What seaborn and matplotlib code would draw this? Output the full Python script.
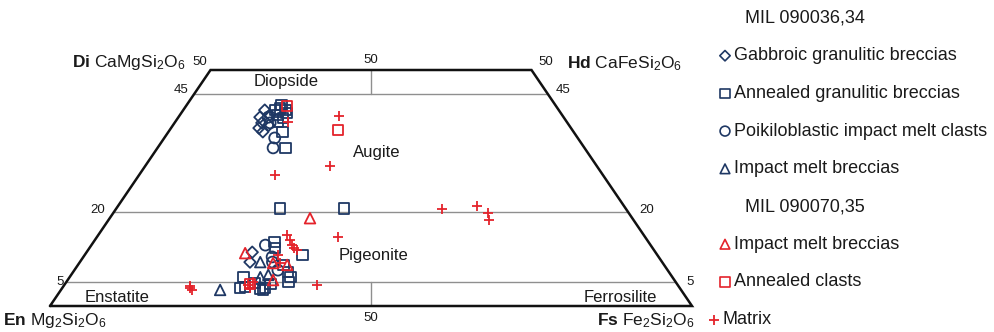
"""
Pyroxene quadrilateral (En-Fs-Di-Hd) for MIL 090036,34 and MIL 090070,35.
Output: out.png
"""

import numpy as np
import pandas as pd
import matplotlib
matplotlib.use('Agg')
import matplotlib.pyplot as plt
import seaborn as sns

NAVY = '#1f3864'
RED = '#e4232b'
TEXT = '#1a1a1a'

# --- Data: Wo and Fs (mol %) ---
# MIL 090036,34
gabbro_wo = [41.5, 40.0, 38.8, 37.7, 36.9, 38.3, 40.5, 11.4, 9.3]
gabbro_fs = [12.7, 12.7, 13.6, 13.7, 14.7, 14.9, 14.0, 25.8, 26.5]

annealed_gran_wo = [41.9, 41.5, 40.5, 39.8, 39.0, 40.9, 42.6, 41.5, 36.9, 33.5,
                    20.6, 20.6, 13.6, 12.3, 10.8, 3.8, 4.0, 3.6, 3.8, 5.1,
                    6.1, 7.2, 6.1, 8.7, 4.7, 4.9, 3.4]
annealed_gran_fs = [14.9, 15.9, 15.2, 16.4, 16.0, 16.4, 14.8, 14.4, 17.8, 19.9,
                    25.5, 35.5, 28.2, 28.9, 33.9, 27.7, 28.4, 30.9, 31.6, 34.6,
                    34.4, 33.5, 27.1, 32.0, 32.0, 29.5, 31.5]

poikilo_wo = [38.8, 35.6, 33.5, 40.0, 12.9, 9.3, 10.4, 7.6]
poikilo_fs = [14.9, 17.2, 18.0, 14.0, 27.1, 30.0, 29.4, 31.7]

melt36_wo = [9.3, 6.1, 3.4, 6.6]
melt36_fs = [28.1, 29.7, 24.8, 30.7]

# MIL 090070,35
melt70_wo = [18.6, 11.2, 8.7, 9.1, 5.5]
melt70_fs = [31.2, 24.8, 32.6, 30.2, 32.0]

annealed_clast_wo = [42.4, 37.3, 4.7]
annealed_clast_fs = [15.7, 26.2, 28.8]

matrix_wo = [39.0, 40.3, 29.7, 27.8, 20.6, 21.2, 19.7, 18.2, 14.6, 4.4, 15.0,
             12.9, 12.3, 11.9, 10.8, 9.1, 4.2, 3.4, 3.8, 4.4, 3.8, 5.1, 14.0]
matrix_fs = [17.6, 24.9, 28.7, 21.1, 50.8, 55.9, 58.3, 59.3, 37.6, 39.4, 29.4,
             31.3, 31.8, 32.6, 30.1, 31.3, 19.7, 20.4, 19.9, 28.6, 29.3, 29.0, 30.4]

groups = [
    ('Gabbroic granulitic breccias', gabbro_wo, gabbro_fs, 'D', NAVY, 34),
    ('Annealed granulitic breccias', annealed_gran_wo, annealed_gran_fs, 's', NAVY, 58),
    ('Poikiloblastic impact melt clasts', poikilo_wo, poikilo_fs, 'o', NAVY, 62),
    ('Impact melt breccias', melt36_wo, melt36_fs, '^', NAVY, 58),
    ('Impact melt breccias ', melt70_wo, melt70_fs, '^', RED, 58),
    ('Annealed clasts', annealed_clast_wo, annealed_clast_fs, 's', RED, 58),
    ('Matrix', matrix_wo, matrix_fs, '+', RED, 52),
]

rows = []
for name, wo, fs, _, _, _ in groups:
    for w, f in zip(wo, fs):
        rows.append({'group': name, 'Wo': w, 'Fs': f})
df = pd.DataFrame(rows)
# quadrilateral coordinates: horizontal = Fs + Wo/2, vertical = Wo
df['x'] = df['Fs'] + df['Wo'] / 2

sns.set_theme(style='white')
plt.rcParams['font.family'] = ['Liberation Sans', 'DejaVu Sans']
plt.rcParams['text.color'] = TEXT
plt.rcParams['mathtext.fontset'] = 'custom'
plt.rcParams['mathtext.rm'] = 'Liberation Sans'
plt.rcParams['mathtext.bf'] = 'Liberation Sans:bold'
plt.rcParams['mathtext.it'] = 'Liberation Sans:italic'

fig = plt.figure(figsize=(9.95, 3.32), dpi=100)
fig.patch.set_facecolor('white')

# pixel-space overlay for the legend column
lax = fig.add_axes([0, 0, 1, 1])
lax.set_xlim(0, 995)
lax.set_ylim(332, 0)
lax.axis('off')

ax = fig.add_axes([50 / 995, 26 / 332, 642 / 995, 236 / 332])
ax.set_xlim(0, 100)
ax.set_ylim(0, 50)
ax.axis('off')

# --- Quadrilateral frame ---
ax.plot([0, 100, 75, 25, 0], [0, 0, 50, 50, 0], color='#111111', lw=1.8,
        clip_on=False, zorder=2, solid_joinstyle='miter')
for wo in [45, 20, 5]:
    ax.plot([wo / 2, 100 - wo / 2], [wo, wo], color='#8f8f8f', lw=1.0, zorder=1)
ax.plot([50, 50], [45, 50], color='#8f8f8f', lw=1.0, zorder=1)
ax.plot([50, 50], [0, 5], color='#8f8f8f', lw=1.0, zorder=1)

# --- Data points ---
for name, _, _, marker, color, size in groups:
    sub = df[df['group'] == name]
    sns.scatterplot(data=sub, x='x', y='Wo', marker=marker, s=size, color=color,
                    edgecolor=color, linewidth=1.3, ax=ax, legend=False,
                    zorder=3, clip_on=False)
    coll = ax.collections[-1]
    if marker != '+':
        coll.set_facecolor('none')
ax.set_xlabel('')
ax.set_ylabel('')

# --- Field names ---
fs_field = 12
ax.text(36.8, 47.5, 'Diopside', ha='center', va='center', fontsize=fs_field)
ax.text(47.2, 32.6, 'Augite', ha='left', va='center', fontsize=fs_field)
ax.text(44.9, 10.8, 'Pigeonite', ha='left', va='center', fontsize=fs_field)
ax.text(10.4, 1.9, 'Enstatite', ha='center', va='center', fontsize=fs_field)
ax.text(88.8, 1.9, 'Ferrosilite', ha='center', va='center', fontsize=fs_field)

# --- Scale numbers ---
fs_tick = 9.5
for x, y, s in [(23.4, 51.7, '50'), (20.4, 45.8, '45'), (7.5, 20.3, '20'), (1.6, 5.1, '5'),
                (77.3, 51.7, '50'), (79.9, 45.8, '45'), (93.0, 20.3, '20'), (99.7, 5.1, '5'),
                (50, 52.2, '50'), (50, -2.6, '50')]:
    ax.text(x, y, s, ha='center', va='center', fontsize=fs_tick)

# --- End-member labels ---
fs_end = 12.5
ax.text(21.0, 51.5, r'$\mathbf{Di}$ CaMgSi$_2$O$_6$', ha='right', va='center', fontsize=fs_end)
ax.text(80.5, 51.4, r'$\mathbf{Hd}$ CaFeSi$_2$O$_6$', ha='left', va='center', fontsize=fs_end)
ax.text(-7.3, -3.0, r'$\mathbf{En}$ Mg$_2$Si$_2$O$_6$', ha='left', va='center', fontsize=fs_end)
ax.text(85.2, -3.0, r'$\mathbf{Fs}$ Fe$_2$Si$_2$O$_6$', ha='left', va='center', fontsize=fs_end)

# --- Legend column ---
legend_rows = [
    ('MIL 090036,34', None, None, 0),
    ('Gabbroic granulitic breccias', 'D', NAVY, 28),
    ('Annealed granulitic breccias', 's', NAVY, 48),
    ('Poikiloblastic impact melt clasts', 'o', NAVY, 50),
    ('Impact melt breccias', '^', NAVY, 48),
    ('MIL 090070,35', None, None, 0),
    ('Impact melt breccias', '^', RED, 48),
    ('Annealed clasts', 's', RED, 48),
    ('Matrix', '+', RED, 55),
]
fs_leg = 13
for i, (label, marker, color, size) in enumerate(legend_rows):
    y = 18 + i * 37.7
    if marker is None:
        lax.text(745, y, label, ha='left', va='center', fontsize=fs_leg)
        continue
    mx = 714 if marker == '+' else 725
    tx = 723 if marker == '+' else 734
    if marker == '+':
        lax.scatter([mx], [y], marker=marker, s=size, color=color, linewidths=1.3)
    else:
        lax.scatter([mx], [y], marker=marker, s=size, facecolors='none',
                    edgecolors=color, linewidths=1.2)
    lax.text(tx, y, label, ha='left', va='center', fontsize=fs_leg)

fig.savefig('out.png', dpi=100, facecolor='white')
